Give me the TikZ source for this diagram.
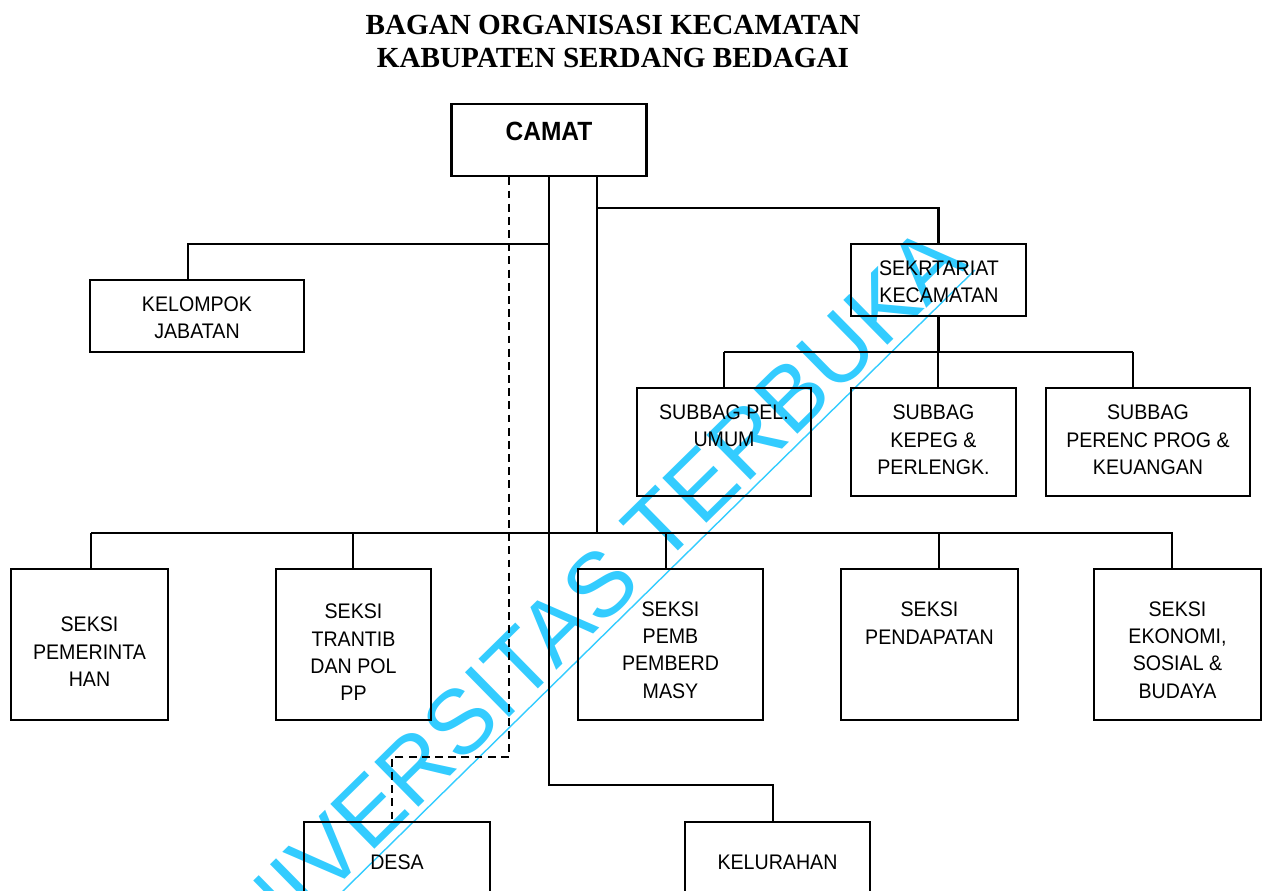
\documentclass[tikz,border=0pt]{standalone}
\usepackage{fontspec}
\setmainfont{Liberation Sans}[FakeStretch=0.93]
\newfontfamily\judulfont{Liberation Serif}
\newfontfamily\tandafont{Liberation Sans}
\usetikzlibrary{calc}
\definecolor{biruut}{RGB}{51,204,255}

\begin{document}
\begin{tikzpicture}[x=0.02cm, y=-0.02cm,
            kotak/.style={draw=black, line width=1.6pt, inner sep=0pt},
            teks/.style={align=center, inner sep=0pt, font=\fontsize{12}{15.6}\selectfont},
            garis/.style={line width=1.6pt, draw=black},
            putus/.style={line width=1.6pt, draw=black, dash pattern=on 4.5pt off 3pt},
            tanda/.style={text=biruut, inner sep=0pt, font=\tandafont\fontsize{52}{52}\selectfont}
        ]
        \useasboundingbox (0,0) rectangle (1267,891);
        \clip (0,0) rectangle (1267,891);

        % --- TANDA AIR ---
        \node[tanda, rotate=44.5, anchor=base east] (air) at (970,265) {UNIVERSITAS TERBUKA};
        \draw[biruut, line width=0.8pt] ($(air.base west)!4pt!-90:(air.base east)$) -- ($(air.base east)!4pt!90:(air.base west)$);

        % --- JUDUL ---
        \node[font=\judulfont\bfseries\fontsize{16.6}{18.7}\selectfont, align=center] (judul) at (613,41.5)
            {BAGAN ORGANISASI KECAMATAN\\KABUPATEN SERDANG BEDAGAI};

        % --- CAMAT ---
        \node[kotak, minimum width=3.9cm, minimum height=1.44cm] (camat) at (549,140) {};
        \node[font=\bfseries\fontsize{15}{16}\selectfont, inner sep=0pt] (t-camat) at (549,131) {CAMAT};

        % --- KELOMPOK JABATAN & SEKRETARIAT ---
        \node[kotak, minimum width=4.28cm, minimum height=1.44cm] (kelompok) at (197,316) {};
        \node[teks] (t-kelompok) at (197,318) {KELOMPOK\\JABATAN};
        \node[kotak, minimum width=3.5cm, minimum height=1.44cm] (sekretariat) at (938.5,280) {};
        \node[teks] (t-sekretariat) at (939,282) {SEKRTARIAT\\KECAMATAN};

        % --- SUBBAG ---
        \node[kotak, minimum width=3.48cm, minimum height=2.16cm] (pel) at (724,442) {};
        \node[kotak, minimum width=3.3cm, minimum height=2.16cm] (kepeg) at (933.5,442) {};
        \node[kotak, minimum width=4.08cm, minimum height=2.16cm] (perenc) at (1148,442) {};
        \node[teks] (t-pel) at (724,426) {SUBBAG PEL.\\UMUM};
        \node[teks] (t-kepeg) at (933.5,440) {SUBBAG\\KEPEG \&\\PERLENGK.};
        \node[teks] (t-perenc) at (1148,440) {SUBBAG\\PERENC PROG \&\\KEUANGAN};

        % --- SEKSI ---
        \node[kotak, minimum width=3.14cm, minimum height=3.02cm] (pem) at (89.5,644.5) {};
        \node[kotak, minimum width=3.1cm, minimum height=3.02cm] (trantib) at (353.5,644.5) {};
        \node[kotak, minimum width=3.7cm, minimum height=3.02cm] (pemb) at (670.5,644.5) {};
        \node[kotak, minimum width=3.54cm, minimum height=3.02cm] (pendapatan) at (929.5,644.5) {};
        \node[kotak, minimum width=3.34cm, minimum height=3.02cm] (ekonomi) at (1177.5,644.5) {};
        \node[teks] (t-pem) at (89.5,652) {SEKSI\\PEMERINTA\\HAN};
        \node[teks] (t-trantib) at (353.5,652.5) {SEKSI\\TRANTIB\\DAN POL\\PP};
        \node[teks] (t-pemb) at (670.5,650) {SEKSI\\PEMB\\PEMBERD\\MASY};
        \node[teks] (t-pendapatan) at (929.5,623) {SEKSI\\PENDAPATAN};
        \node[teks] (t-ekonomi) at (1177.5,650) {SEKSI\\EKONOMI,\\SOSIAL \&\\BUDAYA};

        % --- DESA & KELURAHAN ---
        \node[kotak, minimum width=3.72cm, minimum height=2cm] (desa) at (397,872) {};
        \node[kotak, minimum width=3.7cm, minimum height=2cm] (kelurahan) at (777.5,872) {};
        \node[teks] (t-desa) at (397,862) {DESA};
        \node[teks] (t-kelurahan) at (777.5,862) {KELURAHAN};

        % --- GARIS DARI CAMAT ---
        \coordinate (belokdesa) at (509,757);
        \coordinate (beloklurah) at (549,785);
        \coordinate (cabangkiri) at (549,244);
        \coordinate (cabangkanan) at (597,208);
        \coordinate (busseksi) at (597,533);
        \draw[putus] (camat.south -| belokdesa) -- (belokdesa) -| ([xshift=-0.1cm]desa.north);
        \draw[garis] (camat.south) -- (beloklurah) -| ([xshift=-0.09cm]kelurahan.north);
        \draw[garis] (cabangkiri) -| ([xshift=-0.18cm]kelompok.north);
        \draw[garis] (camat.south -| busseksi) -- (busseksi);
        \draw[garis] (cabangkanan) -| (sekretariat.north);

        % --- GARIS SUBBAG ---
        \draw[garis] (sekretariat.south) -- (sekretariat.south |- 0,352);
        \draw[garis] (724,352) -- (1133,352);
        \foreach \n/\x in {pel/724, kepeg/938, perenc/1133}
            \draw[garis] (\x,352) -- (\x,352 |- \n.north);

        % --- GARIS SEKSI ---
        \draw[garis] (91,533) -- (1173,533);
        \foreach \n/\x in {pem/91, trantib/353, pemb/666, pendapatan/939, ekonomi/1172}
            \draw[garis] (\x,533) -- (\x,533 |- \n.north);
    \end{tikzpicture}
\end{document}
